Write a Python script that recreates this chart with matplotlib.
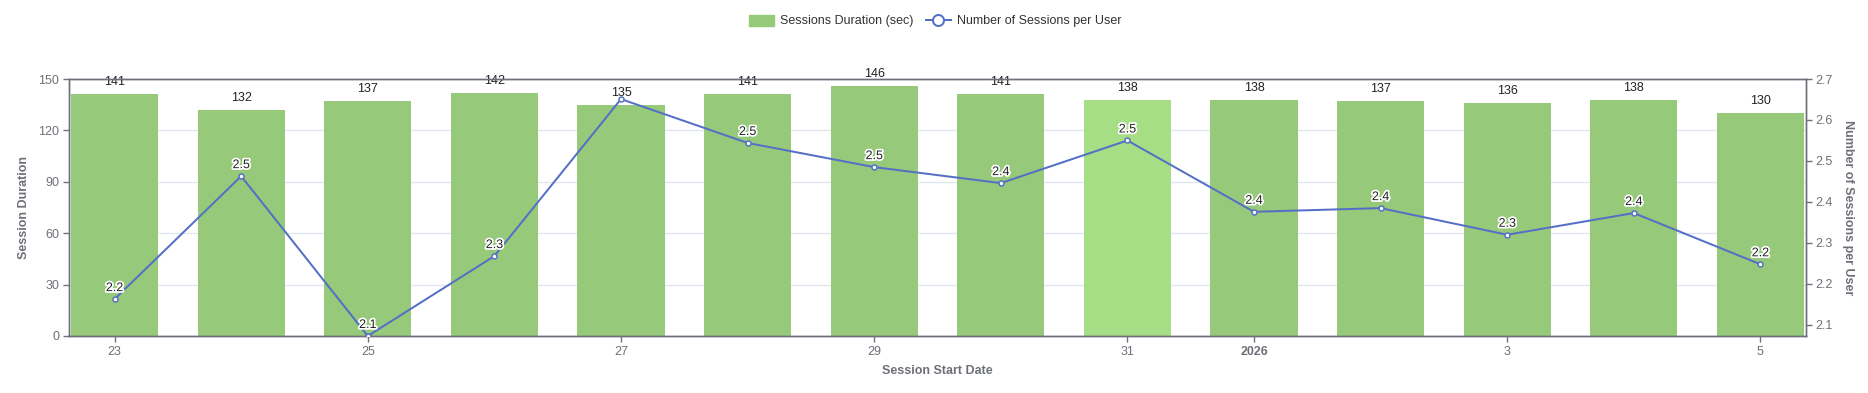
import matplotlib
matplotlib.use("Agg")
import matplotlib.pyplot as plt
import matplotlib.patheffects as pe
from matplotlib.lines import Line2D
from matplotlib.patches import Patch

plt.rcParams['font.family'] = ['Liberation Sans', 'DejaVu Sans']

dates = ["23", "24", "25", "26", "27", "28", "29", "30", "31", "2026", "2", "3", "4", "5"]
durations = [141, 132, 137, 142, 135, 141, 146, 141, 138, 138, 137, 136, 138, 130]
sessions_per_user = [2.163, 2.463, 2.073, 2.268, 2.651, 2.544, 2.485, 2.446, 2.55,
                     2.376, 2.385, 2.32, 2.373, 2.248]
tick_labels = ["23", "25", "27", "29", "31", "2026", "3", "5"]
tick_idx = [0, 2, 4, 6, 8, 9, 11, 13]
left_ticks = [0, 30, 60, 90, 120, 150]
right_ticks = [2.1, 2.2, 2.3, 2.4, 2.5, 2.6, 2.7]

W, H = 1868, 393
fig = plt.figure(figsize=(W / 100, H / 100), dpi=100)
x0, x1, y0, y1 = 69, 1806, 79, 336
ax = fig.add_axes([x0 / W, 1 - y1 / H, (x1 - x0) / W, (y1 - y0) / H])
ax2 = ax.twinx()

axis_col = "#6e7079"
bar_col = "#96c979"
hl_col = "#a6de85"
line_col = "#5470c6"
px = 0.72  # points per pixel

xs = list(range(len(dates)))
colors = [hl_col if i == 8 else bar_col for i in xs]
ax.bar(xs, durations, width=0.69, color=colors, zorder=2)
ax.set_xlim(-0.36, len(dates) - 1 + 0.36)
ax.set_ylim(0, 150)
ax.set_yticks(left_ticks)
ax.set_xticks(tick_idx)
ax.set_xticklabels(tick_labels)
for lbl in ax.get_xticklabels():
    if lbl.get_text() == "2026":
        lbl.set_fontweight("bold")
ax.grid(axis='y', color="#e0e6f1", linewidth=1, zorder=0)
ax.set_axisbelow(True)

for i, v in enumerate(durations):
    ax.annotate(str(v), (i, v), xytext=(0, 12 * px), textcoords="offset points",
                ha="center", va="center", fontsize=12.5 * px, color="#222222", zorder=5)

ax2.plot(xs, sessions_per_user, color=line_col, linewidth=2 * px, marker='o',
         markersize=5 * px, markerfacecolor="white", markeredgewidth=1.5 * px,
         markeredgecolor=line_col, zorder=4)
ax2.set_ylim(2.073, 2.7)
ax2.set_yticks(right_ticks)
for i, v in enumerate(sessions_per_user):
    if i == 4:
        continue
    t = ax2.annotate(f"{v:.1f}", (i, v), xytext=(0, 11 * px), textcoords="offset points",
                     ha="center", va="center", fontsize=12.5 * px, color="#222222", zorder=6)
    t.set_path_effects([pe.withStroke(linewidth=2.5, foreground="white")])

for a in (ax, ax2):
    for s in a.spines.values():
        s.set_color(axis_col)
        s.set_linewidth(1)
    a.tick_params(colors=axis_col, labelsize=12.5 * px, length=4, width=1, labelcolor=axis_col)
ax.tick_params(axis='y', pad=3)
ax2.tick_params(axis='y', pad=3)
ax.set_zorder(ax2.get_zorder() - 1)
ax2.patch.set_visible(False)

ax.set_ylabel("Session Duration", fontsize=12.5 * px, fontweight="bold", color=axis_col, labelpad=6)
ax2.set_ylabel("Number of Sessions per User", fontsize=12.5 * px, fontweight="bold",
               color=axis_col, rotation=-90, labelpad=15)
ax.set_xlabel("Session Start Date", fontsize=12.5 * px, fontweight="bold", color=axis_col, labelpad=5)

handles = [
    Patch(facecolor=bar_col, edgecolor=bar_col),
    Line2D([0], [0], color=line_col, linewidth=2 * px, marker='o', markersize=11 * px,
           markerfacecolor="white", markeredgewidth=2 * px),
]
fig.legend(handles, ["Sessions Duration (sec)", "Number of Sessions per User"],
           loc="center", bbox_to_anchor=(935 / W, 1 - 21 / H), ncol=2, frameon=False,
           fontsize=12.5 * px, handlelength=2.0, handleheight=1.0, columnspacing=1.0,
           handletextpad=0.5, labelcolor="#333333")

fig.savefig("out.png", dpi=100)
